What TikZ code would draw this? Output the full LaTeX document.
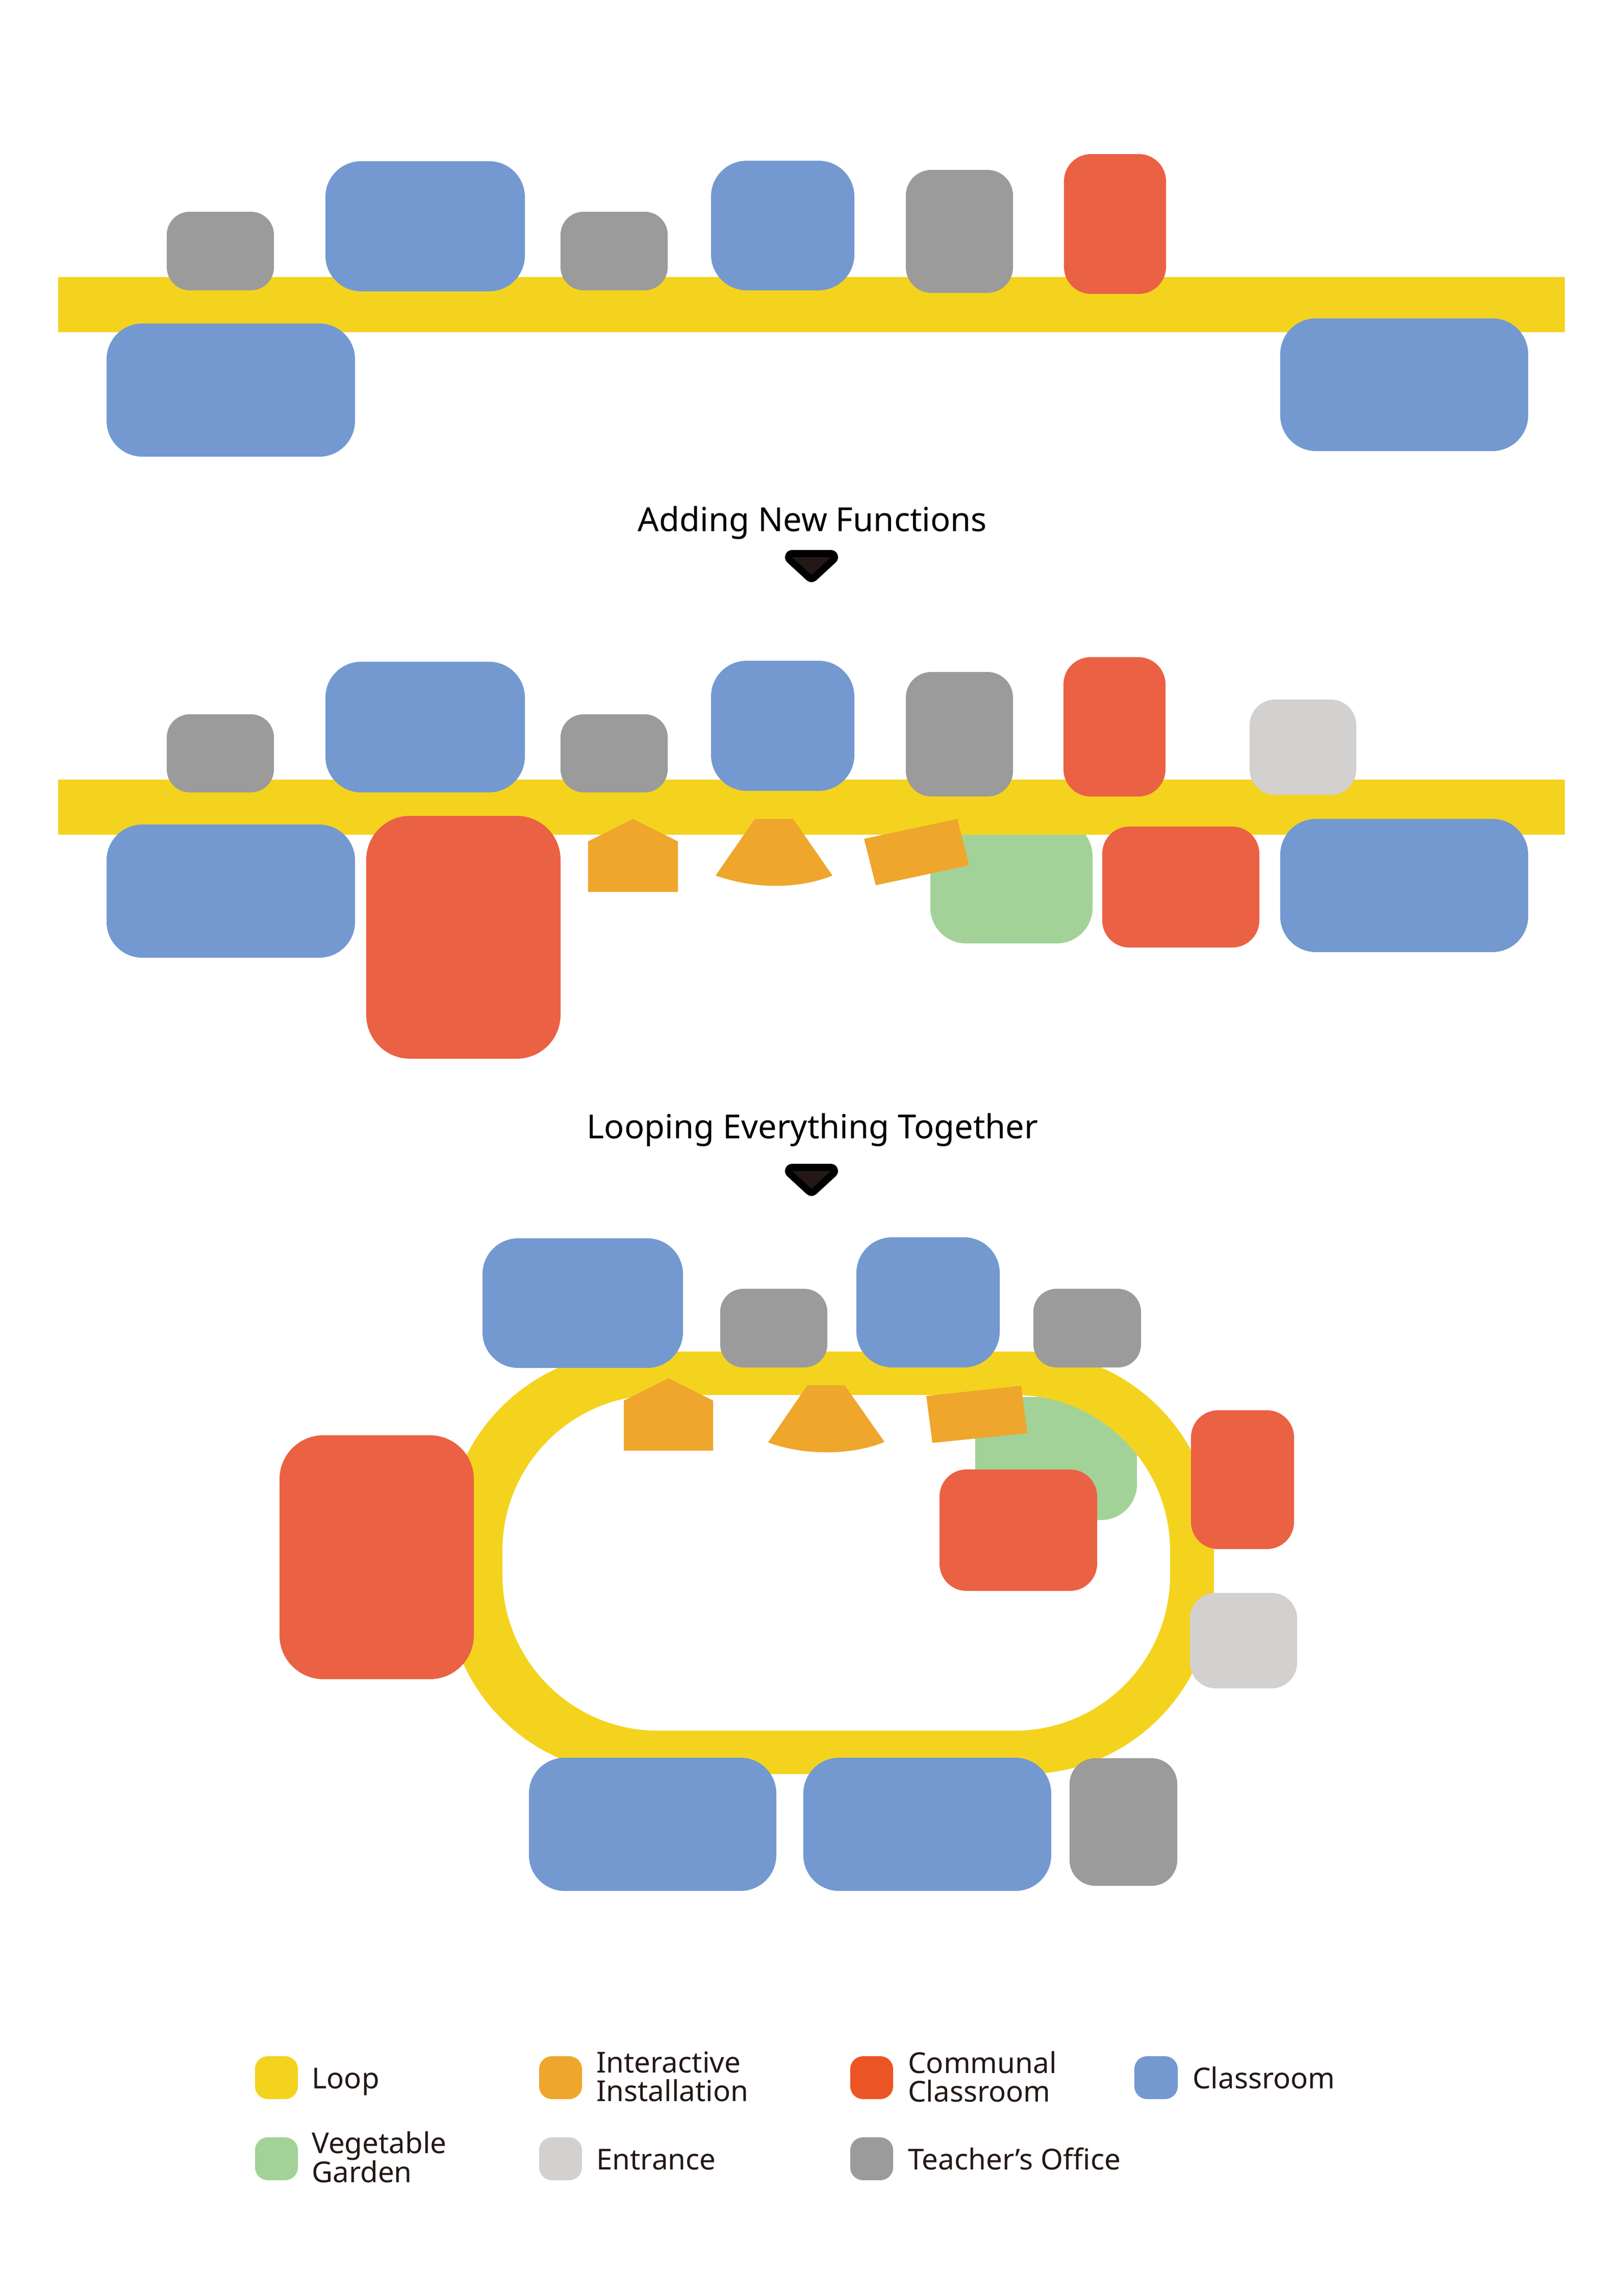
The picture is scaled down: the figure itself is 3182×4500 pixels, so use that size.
\documentclass[tikz,border=0pt]{standalone}
\usepackage{fontspec}
\setmainfont{Noto Sans}
\definecolor{cyellow}{HTML}{F4D31F}
\definecolor{corange}{HTML}{EEA62C}
\definecolor{cred}{HTML}{EB6143}
\definecolor{cblue}{HTML}{7399D0}
\definecolor{cgray}{HTML}{9B9B9B}
\definecolor{clight}{HTML}{D2D1D0}
\definecolor{cgreen}{HTML}{A3D298}
\definecolor{lred}{HTML}{EB5526}
\definecolor{ink}{HTML}{231815}
\newcommand{\rb}[6]{\fill[#1,rounded corners=#2pt] (#3,#4) rectangle (#5,#6);}
\newcommand{\arrowmark}[1]{%
  \begin{scope}[yshift=-#1pt]
    \draw[black,line width=28pt,line join=round] (1553,1092) -- (1629,1092) -- (1591,1127) -- cycle;
    \fill[ink] (1553,1092) -- (1629,1092) -- (1591,1127) -- cycle;
  \end{scope}}
\tikzset{
  titletext/.style={font=\fontsize{65pt}{70pt}\selectfont,text=black,inner sep=0pt,anchor=base},
  legtext/.style={font=\fontsize{56.5pt}{56pt}\selectfont,text=ink,inner sep=0pt,align=left,anchor=west},
  legone/.style={font=\fontsize{56.5pt}{56pt}\selectfont,text=ink,inner sep=0pt,anchor=base west},
}
\begin{document}
\begin{tikzpicture}[x=1pt,y=-1pt]
\useasboundingbox (0,0) rectangle (3182,4500);
\fill[white] (0,0) rectangle (3182,4500);
% ---------- row 1
\fill[cyellow] (114,543) rectangle (3068,651);
\rb{cgray}{45}{327}{415}{537}{569}
\rb{cblue}{70}{638}{316}{1029}{571}
\rb{cgray}{45}{1099}{415}{1309}{569}
\rb{cblue}{70}{1394}{315}{1675}{569}
\rb{cgray}{50}{1776}{333}{1986}{574}
\rb{cred}{53}{2086}{302}{2286}{576}
\rb{cblue}{70}{209}{634}{696}{895}
\rb{cblue}{70}{2510}{624}{2996}{884}
% ---------- title 1
\node[titletext] (t1) at (1593,1041) {Adding New Functions};
\arrowmark{0}
% ---------- row 2
\rb{cgreen}{70}{1824}{1608}{2142}{1849}
\fill[cyellow] (114,1528) rectangle (3068,1636);
\rb{cgray}{45}{327}{1400}{537}{1553}
\rb{cblue}{70}{638}{1297}{1029}{1553}
\rb{cgray}{45}{1099}{1400}{1309}{1553}
\rb{cblue}{70}{1394}{1295}{1675}{1550}
\rb{cgray}{50}{1776}{1317}{1986}{1561}
\rb{cred}{53}{2085}{1288}{2285}{1561}
\rb{clight}{50}{2450}{1371}{2659}{1558}
\rb{cblue}{70}{209}{1616}{696}{1877}
\rb{cred}{86}{718}{1599}{1099}{2075}
\rb{cred}{53}{2161}{1620}{2469}{1857}
\rb{cblue}{70}{2510}{1605}{2996}{1866}
\fill[corange] (1153,1649) -- (1241,1605) -- (1329,1649) -- (1329,1748) -- (1153,1748) -- cycle;
\fill[corange] (1480,1605) -- (1555,1605) -- (1632,1716) .. controls (1565,1743) and (1480,1743) .. (1403,1716) -- cycle;
\fill[corange] (1694,1644) -- (1877,1605) -- (1900,1696) -- (1717,1735) -- cycle;
% ---------- title 2
\node[titletext] (t2) at (1593,2231) {Looping Everything Together};
\arrowmark{1203}
% ---------- row 3
\rb{cgreen}{70}{1912}{2738}{2229}{2979}
\fill[cyellow,even odd rule,rounded corners=370pt] (875,2649) rectangle (2380,3477)
  [rounded corners=305pt] (985,2734) rectangle (2294,3392);
\rb{cblue}{70}{946}{2427}{1339}{2681}
\rb{cgray}{45}{1412}{2526}{1622}{2680}
\rb{cblue}{70}{1679}{2425}{1960}{2680}
\rb{cgray}{45}{2026}{2526}{2237}{2680}
\rb{cred}{86}{548}{2813}{929}{3291}
\rb{cred}{53}{2335}{2764}{2537}{3036}
\rb{clight}{50}{2333}{3122}{2543}{3309}
\rb{cblue}{70}{1037}{3445}{1522}{3706}
\rb{cblue}{70}{1575}{3445}{2061}{3706}
\rb{cgray}{50}{2097}{3446}{2308}{3696}
\rb{cred}{53}{1842}{2880}{2151}{3118}
\fill[corange] (1223,2745) -- (1311,2701) -- (1398,2745) -- (1398,2843) -- (1223,2843) -- cycle;
\fill[corange] (1583,2715) -- (1656,2715) -- (1734,2826) .. controls (1670,2853) and (1575,2853) .. (1506,2827) -- cycle;
\fill[corange] (1816,2736) -- (2002,2716) -- (2014,2809) -- (1828,2828) -- cycle;
% ---------- legend
\rb{cyellow}{25}{500}{4030}{584}{4114}
\rb{corange}{25}{1057}{4030}{1141}{4114}
\rb{lred}{25}{1667}{4030}{1751}{4114}
\rb{cblue}{25}{2224}{4030}{2309}{4114}
\rb{cgreen}{25}{500}{4189}{584}{4273}
\rb{clight}{25}{1057}{4189}{1141}{4273}
\rb{cgray}{25}{1667}{4189}{1751}{4273}
\node[legone] (l1) at (611,4093) {Loop};
\node[legtext] (l2) at (1169,4070) {Interactive\\Installation};
\node[legtext] (l3) at (1780,4070) {Communal\\Classroom};
\node[legone] (l4) at (2338,4093) {Classroom};
\node[legtext] (l5) at (611,4228) {Vegetable\\Garden};
\node[legone] (l6) at (1169,4252) {Entrance};
\node[legone] (l7) at (1780,4252) {Teacher’s Office};
\end{tikzpicture}
\end{document}
